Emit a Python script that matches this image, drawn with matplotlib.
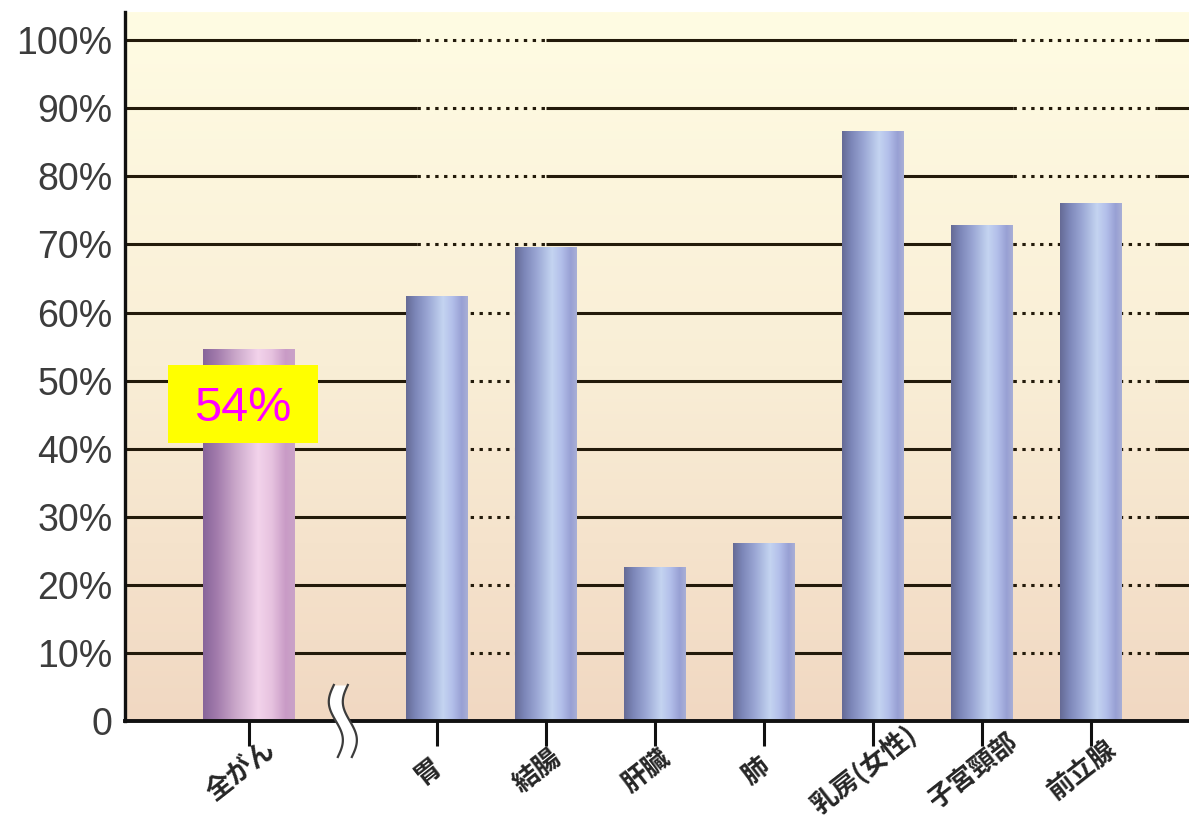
import numpy as np
import matplotlib.pyplot as plt
import matplotlib.transforms as mtransforms
from matplotlib.colors import LinearSegmentedColormap
from matplotlib.patches import Rectangle

# Data: 5-year relative survival by cancer site
categories = ['全がん', '胃', '結腸', '肝臓', '肺', '乳房(女性)', '子宮頸部', '前立腺']
survival = [54.6, 62.5, 69.6, 22.6, 26.1, 86.6, 72.8, 76.1]
ytick_values = [0, 10, 20, 30, 40, 50, 60, 70, 80, 90, 100]
ytick_labels = ['0', '10%', '20%', '30%', '40%', '50%', '60%', '70%', '80%', '90%', '100%']
highlight_text = '54%'

# Layout
x = np.arange(len(categories), dtype=float)
x[1:] += 0.72                     # gap for the axis break after 全がん
widths = np.full(len(categories), 0.56)
widths[0] = 0.84
break_x = (x[0] + x[1]) / 2

blue_cmap = LinearSegmentedColormap.from_list('blue_bar', [
    (0.0, '#656a95'), (0.15, '#7c86b8'), (0.35, '#9aa6d4'), (0.6, '#c4d4f1'),
    (0.75, '#b3bfea'), (0.9, '#98a0d4'), (1.0, '#a9afd6')])
purple_cmap = LinearSegmentedColormap.from_list('purple_bar', [
    (0.0, '#87659a'), (0.15, '#a27bac'), (0.35, '#c9a6c9'), (0.6, '#f3d3eb'),
    (0.75, '#e6c2df'), (0.9, '#c99bc6'), (1.0, '#caa3c8')])
bg_cmap = LinearSegmentedColormap.from_list('bg', [
    (0.0, '#f1d8c2'), (0.5, '#f9eed6'), (1.0, '#fffce3')])

fig = plt.figure(figsize=(11.89, 8.22), dpi=100)
fig.patch.set_facecolor('white')
ax = fig.add_axes([0.1051, 0.1229, 0.8949, 0.8621])

xmin, xmax = -1.138, 8.62
ymin, ymax = 0, 104.1

# background gradient
grad = np.linspace(0, 1, 256).reshape(-1, 1)
ax.imshow(grad, cmap=bg_cmap, origin='lower', aspect='auto',
          extent=[xmin, xmax, ymin, ymax], zorder=0)

# gridlines, with dotted stretches like the original artwork
dotted_zones = [(x[1] - 0.18, x[2]), (x[6] + 0.29, x[7] + 0.61)]
for yv in ytick_values[1:]:
    edges = [xmin]
    for a, b in dotted_zones:
        edges += [a, b]
    edges.append(xmax)
    for i in range(len(edges) - 1):
        ls = '-' if i % 2 == 0 else (0, (1.1, 1.8))
        ax.plot([edges[i], edges[i + 1]], [yv, yv], color='#231a0a',
                lw=2.2, ls=ls, solid_capstyle='butt', zorder=1)

# gradient bars
gx = np.linspace(0, 1, 256).reshape(1, -1)
for i, (xc, val, w) in enumerate(zip(x, survival, widths)):
    cmap = purple_cmap if i == 0 else blue_cmap
    rect = Rectangle((xc - w / 2, 0), w, val, facecolor='none',
                     edgecolor='none', zorder=2)
    ax.add_patch(rect)
    im = ax.imshow(gx, cmap=cmap, aspect='auto',
                   extent=[xc - w / 2, xc + w / 2, 0, val], zorder=2)
    im.set_clip_path(rect)

# highlight box for 全がん
box = Rectangle((-0.743, 40.8), 1.376, 11.5, facecolor='#ffff00',
                edgecolor='none', zorder=4)
ax.add_patch(box)
ax.text(-0.055, 44.05, highlight_text, color='#ff00ff', fontsize=35,
        family='Liberation Sans', ha='center', va='baseline', zorder=5)

# axis break mark (offsets in inches from the break point on the x axis)
trans = fig.dpi_scale_trans + mtransforms.ScaledTranslation(break_x, 0, ax.transData)
t = np.linspace(0, 1, 80)
yy = (0.5 - t) * 0.72
wave = -0.06 * np.sin(2 * np.pi * t) + 0.04 * (t - 0.5)
left_curve = wave - 0.07
right_curve = wave + 0.07
ax.fill_betweenx(yy, left_curve, right_curve, color='white', transform=trans,
                 zorder=6, clip_on=False, lw=0)
for c in (left_curve, right_curve):
    ax.plot(c, yy, color='#3c3c3c', lw=1.6, transform=trans, zorder=7,
            clip_on=False)

ax.set_xlim(xmin, xmax)
ax.set_ylim(ymin, ymax)

# ticks
ax.set_yticks(ytick_values, ytick_labels, fontsize=27, family='Liberation Sans',
              color='#3c3c3c')
ax.tick_params(axis='y', length=0, pad=9)
ax.set_xticks(x, categories, rotation=38, ha='center', va='center', fontsize=19,
              family=['Noto Sans CJK JP', 'DejaVu Sans'], color='#262626',
              fontweight='bold')
ax.tick_params(axis='x', length=18, width=2.2, color='#111111', pad=18,
               direction='out')
shift = mtransforms.ScaledTranslation(-0.08, 0, fig.dpi_scale_trans)
for lab in ax.get_xticklabels():
    lab.set_transform(lab.get_transform() + shift)

for side in ('top', 'right'):
    ax.spines[side].set_visible(False)
ax.spines['left'].set_linewidth(2.4)
ax.spines['left'].set_color('#111111')
ax.spines['bottom'].set_linewidth(2.8)
ax.spines['bottom'].set_color('#111111')
ax.spines['left'].set_zorder(5)
ax.spines['bottom'].set_zorder(5)

fig.savefig('out.png', dpi=100)
